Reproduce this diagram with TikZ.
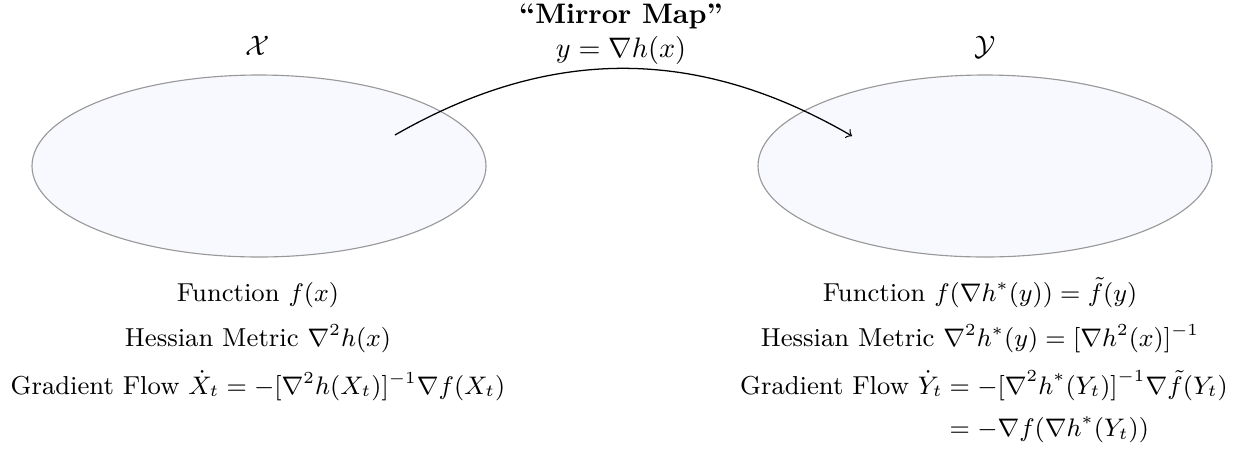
\documentclass[tikz,border=0pt]{standalone}
\usepackage{amsmath}
\begin{document}
\begin{tikzpicture}[x=0.3546pt,y=-0.3546pt,
  space/.style={draw=black!40, fill=ellfill, line width=0.4pt},
  lbl/.style={anchor=base, inner sep=0pt},
  sub/.style={anchor=base, inner sep=0pt, font=\fontsize{9.2pt}{11pt}\selectfont},
  mapline/.style={->, line width=0.45pt}]
\definecolor{ellfill}{RGB}{248,248,255}
\useasboundingbox (0,0) rectangle (1245,448);
\draw[space] (259,166) ellipse [x radius=227, y radius=91];
\draw[space] (985,166) ellipse [x radius=227, y radius=91];
\node[lbl] (X) at (258,55) {$\mathcal{X}$};
\node[lbl] (Y) at (985,55) {$\mathcal{Y}$};
\node[lbl] (title) at (621,23) {\textbf{``Mirror Map''}};
\node[lbl] (map) at (621,57) {$y=\nabla h(x)$};
\coordinate (a) at (395,135);
\coordinate (b) at (852,136);
\draw[mapline] (a) to[bend left=30] (b);
\node[sub] (lf) at (258,301) {Function $f(x)$};
\node[sub] (lh) at (258,346) {Hessian Metric $\nabla^2 h(x)$};
\node[sub] (lg) at (258,394) {Gradient Flow $\dot X_t = -[\nabla^2 h(X_t)]^{-1}\nabla f(X_t)$};
\node[sub] (rf) at (980,301) {Function $f(\nabla h^*(y)) = \tilde f(y)$};
\node[sub] (rh) at (980,346) {Hessian Metric $\nabla^2 h^*(y) = [\nabla h^2(x)]^{-1}$};
\node[sub] (rg) at (984,394) {Gradient Flow $\begin{aligned}[t]\dot Y_t &= -[\nabla^2 h^*(Y_t)]^{-1}\nabla \tilde f(Y_t)\\[1pt] &= -\nabla f(\nabla h^*(Y_t))\end{aligned}$};
\end{tikzpicture}
\end{document}
